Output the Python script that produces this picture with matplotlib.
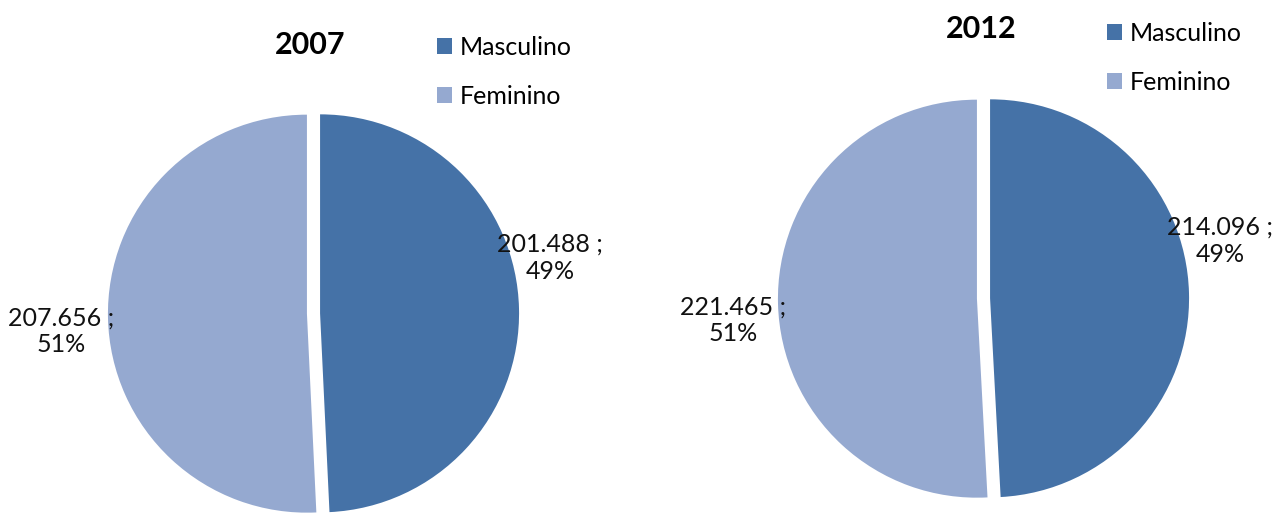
import matplotlib.pyplot as plt
from matplotlib.patches import Patch

plt.rcParams['font.family'] = ['Lato', 'DejaVu Sans']

# data
years = ['2007', '2012']
categorias = ['Masculino', 'Feminino']
masculino = [201488, 214096]
feminino = [207656, 221465]
cores = ['#4572A7', '#95A9D0']

W, H = 1272, 513
fig = plt.figure(figsize=(W / 100, H / 100), dpi=100)

# pie centres / radius in pixels (from top-left)
centros = [(313.5, 313.5), (983.5, 298.5)]
R = 199
lim = 1.2
# label offsets in radius units: [masc, fem]
lbl_pos = [[(1.19, 0.28), (-1.27, -0.09)],
           [(1.19, 0.29), (-1.26, -0.11)]]
titulo_pos = [(310, 45), (981, 29)]
legenda_pos = [(437, 36), (1107, 22)]


def fmt(v):
    return f"{v:,}".replace(",", ".")


for i, ano in enumerate(years):
    cx, cy = centros[i]
    ax = fig.add_axes([(cx - lim * R) / W, (H - cy - lim * R) / H,
                       2 * lim * R / W, 2 * lim * R / H])
    vals = [masculino[i], feminino[i]]
    total = sum(vals)
    ax.pie(vals, colors=cores, startangle=90, counterclock=False,
           explode=[0.033, 0.033], radius=1)
    ax.set_xlim(-lim, lim)
    ax.set_ylim(-lim, lim)
    ax.set_aspect('equal')
    ax.axis('off')
    for j, v in enumerate(vals):
        pct = round(v / total * 100)
        x, y = lbl_pos[i][j]
        ax.text(x, y, f"{fmt(v)} ;\n{pct}%", ha='center', va='center',
                fontsize=18, linespacing=1.22, color='#111111')

    tx, ty = titulo_pos[i]
    fig.text(tx / W, 1 - ty / H, ano, ha='center', va='center',
             fontsize=22, fontweight='bold')

    lx, ly = legenda_pos[i]
    handles = [Patch(facecolor=c, edgecolor='none') for c in cores]
    fig.legend(handles, categorias, loc='upper left',
               bbox_to_anchor=(lx / W, 1 - ly / H), frameon=False,
               fontsize=18, handlelength=0.6, handleheight=0.6,
               handletextpad=0.3, labelspacing=1.02, borderpad=0,
               borderaxespad=0)

fig.savefig('out.png', dpi=100)
